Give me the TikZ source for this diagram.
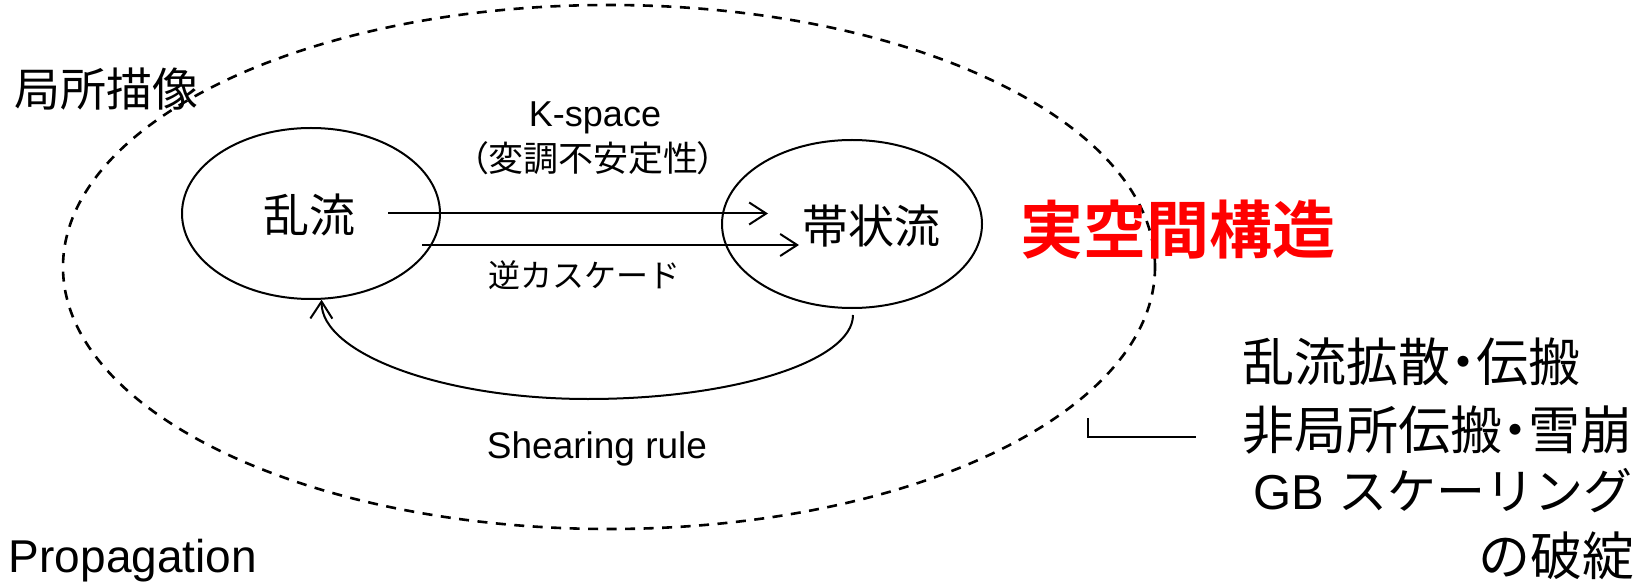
\documentclass[tikz,border=0pt]{standalone}
\usepackage{fontspec}
\setmainfont{Liberation Sans}
\newfontfamily\jp{Noto Sans CJK JP}
\newfontfamily\jpbold{Noto Sans CJK JP Bold}
\newcommand{\pdot}{{\addfontfeatures{RawFeature=+palt}・}}
\usetikzlibrary{shapes.geometric,arrows.meta}
\begin{document}
\begin{tikzpicture}[x=1pt,y=-1pt,line width=2pt,
  lbl/.style={inner sep=0pt,outer sep=0pt},
  jpf/.style={lbl,font=\jp\fontsize{#1}{#1}\selectfont},
  laf/.style={lbl,font=\fontsize{#1}{#1}\selectfont},
  ell/.style={draw,ellipse,inner sep=0pt},
  arr/.style={-{Straight Barb[length=17pt,width=22pt]}}]
\useasboundingbox (0,0) rectangle (1646,585);
% outer dashed ellipse
\node[ell,line width=2.6pt,dash pattern=on 10pt off 8.5pt,
      minimum width=1092pt,minimum height=524pt] (outer) at (609,267) {};
% inner ellipses
\node[ell,minimum width=258pt,minimum height=171pt] (tb) at (311,213.5) {};
\node[ell,minimum width=260pt,minimum height=168pt] (zf) at (852,224) {};
% labels
\node[jpf=46] (tbl) at (309,215) {乱流};
\node[jpf=46] (zfl) at (871,226) {帯状流};
\node[jpf=46] (local) at (106,89) {局所描像};
\node[laf=36,anchor=base] (ks) at (595,127) {K-space};
\node[jpf=35] (mod) at (593,158) {\addfontfeatures{RawFeature=+palt}（変調不安定性）};
\node[jpf=32] (inv) at (584,275) {逆カスケード};
\node[laf=37,anchor=base] (sr) at (597,458) {Shearing rule};
\node[laf=46,anchor=base west] (prop) at (9,572) {Propagation};
\node[lbl,font=\jpbold\fontsize{63}{63}\selectfont,text={rgb,255:red,255;green,0;blue,0}] (real) at (1178,230) {実空間構造};
\node[jpf=52,anchor=west] (r1) at (1242,362) {乱流拡散\pdot 伝搬};
\node[jpf=52,anchor=west] (r2) at (1242,430) {非局所伝搬\pdot 雪崩};
\node[laf=49,anchor=east] (r3) at (1632,491) {GB {\jp スケーリング}};
\node[jpf=52,anchor=east] (r4) at (1634,556) {の破綻};
% arrows
\coordinate (a1s) at (388,213.5);
\coordinate (a1e) at (768,213.5);
\coordinate (a2s) at (422,245);
\coordinate (a2e) at (799,245);
\draw[arr] (a1s) -- (a1e);
\draw[arr] (a2s) -- (a2e);
\coordinate (cs) at (853,315);
\coordinate (cb) at (588,399);
\draw[arr] (cs) .. controls (853,361) and (734,399) .. (cb)
  .. controls (441,399) and (321,353) .. (tb.-83);
% L connector
\coordinate (lc) at (1088,418);
\coordinate (le) at (1196,437);
\draw (lc) |- (le);
\end{tikzpicture}
\end{document}
